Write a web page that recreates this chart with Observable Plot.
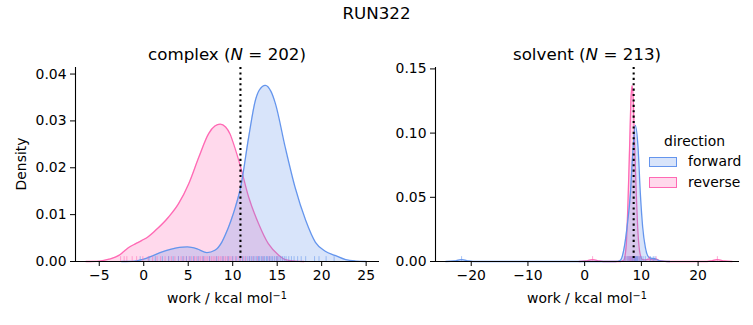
<!DOCTYPE html>
<html>
<head>
<meta charset="utf-8">
<script src="https://cdn.jsdelivr.net/npm/d3@7"></script>
<script src="https://cdn.jsdelivr.net/npm/@observablehq/plot@0.6"></script>
<style>
  html, body { margin: 0; padding: 0; background: white; }
  #fig { position: relative; width: 753px; height: 325px; font-family: "DejaVu Sans", sans-serif; color: black; overflow: hidden; }
  .t { position: absolute; transform: translate(-50%, -50%); line-height: 1; white-space: nowrap; }
  .pl { position: absolute; }
  .lg { position: absolute; font-size: 13.9px; line-height: 1; white-space: nowrap; transform: translateY(-50%); }
  .patch { position: absolute; box-sizing: border-box; width: 27.5px; height: 10.8px; border-width: 1.3px; border-style: solid; }
  sup { font-size: 0.7em; vertical-align: 0.45em; line-height: 0; }
</style>
</head>
<body>
<div id="fig">
  <div class="t" style="left:376.5px; top:12.5px; font-size:16.7px;">RUN322</div>
  <div class="t" style="left:227px; top:54px; font-size:16.7px;">complex (<i>N</i> = 202)</div>
  <div class="t" style="left:587px; top:54px; font-size:16.7px;">solvent (<i>N</i> = 213)</div>
  <div class="t" style="left:227px; top:299px; font-size:13.9px;">work / kcal mol<sup>−1</sup></div>
  <div class="t" style="left:587px; top:299px; font-size:13.9px;">work / kcal mol<sup>−1</sup></div>
  <div class="t" style="left:21.5px; top:164px; font-size:13.9px; transform: translate(-50%, -50%) rotate(-90deg);">Density</div>
  <div id="left" class="pl" style="left:0px; top:60px;"></div>
  <div id="right" class="pl" style="left:380px; top:60px;"></div>
  <div class="lg" style="left:694.5px; top:142px; transform: translate(-50%, -50%);">direction</div>
  <div class="patch" id="pf" style="left:649px; top:156.6px;"></div>
  <div class="lg" style="left:688px; top:161.5px;">forward</div>
  <div class="patch" id="pr" style="left:649px; top:177.2px;"></div>
  <div class="lg" style="left:688px; top:182.5px;">reverse</div>
</div>
<script>
// ---------- data ----------
const directions = ["forward", "reverse"];
const colors = {forward: "#6495ED", reverse: "#FF69B4"};

// complex panel: KDE curves
const complexForwardX = [-2.5, -1, 0, 1, 2, 3, 4, 4.9, 6, 7.1, 8, 8.8, 9.2, 9.8, 10.3, 10.9, 11.8, 12.55, 13.0, 13.67, 14.3, 14.8, 15.9, 17.0, 18.2, 19.3, 20.4, 21.5, 22.7, 23.8, 25];
const complexForwardD = [0, 0.0001, 0.0005, 0.0012, 0.0020, 0.0026, 0.0030, 0.0031, 0.0027, 0.0019, 0.0024, 0.0042, 0.0058, 0.0087, 0.0116, 0.0159, 0.0266, 0.0344, 0.0366, 0.0376, 0.0363, 0.0337, 0.0244, 0.0159, 0.0088, 0.0041, 0.0022, 0.0013, 0.0004, 0.0001, 0];
const complexReverseX = [-6.5, -5, -3.9, -2.8, -2.2, -1.6, -0.9, -0.2, 0.5, 1.3, 2.8, 3.9, 5.06, 6.2, 7.3, 8.0, 8.6, 9.2, 9.7, 10.1, 10.9, 11.8, 12.9, 14.0, 15.2, 15.9, 17, 18];
const complexReverseD = [0, 0.0001, 0.0005, 0.0013, 0.0022, 0.0031, 0.0038, 0.0045, 0.0053, 0.0066, 0.0095, 0.0123, 0.0166, 0.0223, 0.0273, 0.0289, 0.0293, 0.0287, 0.0272, 0.0251, 0.0201, 0.0137, 0.0081, 0.0038, 0.0013, 0.0004, 0.0001, 0];
// complex panel: rug samples (approximate)
const complexForwardRug = [-0.4, 0.6, 1.3, 2.1, 2.8, 3.3, 3.9, 4.4, 4.8, 5.2, 5.6, 6.1, 6.7, 7.4, 8.2, 8.9, 9.5, 10.0, 10.4, 10.8, 11.1, 11.4, 11.7, 11.9, 12.1, 12.3, 12.5, 12.7, 12.9, 13.0, 13.2, 13.3, 13.5, 13.6, 13.8, 13.9, 14.1, 14.2, 14.4, 14.5, 14.7, 14.9, 15.0, 15.2, 15.4, 15.6, 15.8, 16.0, 16.3, 16.6, 16.9, 17.3, 17.7, 18.2, 19.2, 19.7, 20.5, 21.4];
const complexReverseRug = [-2.6, -2.2, -1.9, -1.3, -0.8, -0.1, 0.5, 1.0, 1.5, 1.9, 2.4, 2.8, 3.1, 3.5, 3.9, 4.2, 4.5, 4.8, 5.1, 5.4, 5.7, 5.9, 6.2, 6.4, 6.6, 6.8, 7.0, 7.2, 7.4, 7.6, 7.8, 8.0, 8.2, 8.4, 8.6, 8.8, 9.0, 9.2, 9.4, 9.6, 9.8, 10.0, 10.3, 10.6, 10.9, 11.2, 11.5, 11.9, 12.3, 12.8, 13.4, 14.1, 15.0];
const complexMarker = [10.87];

// solvent panel: KDE curves
const solventForwardX = [-24.5, -23, -21.7, -20.4, -19, 5.5, 6.3, 6.88, 7.47, 8.06, 8.47, 8.94, 9.41, 9.82, 10.23, 10.7, 11.3, 11.8, 12.3, 12.8, 13.5, 15];
const solventForwardD = [0, 0.0004, 0.0015, 0.0004, 0, 0, 0.001, 0.0086, 0.0267, 0.0527, 0.0839, 0.106, 0.089, 0.0527, 0.0267, 0.011, 0.0034, 0.0025, 0.0022, 0.0012, 0.0003, 0];
const solventReverseX = [-1, 0.2, 1.4, 2.6, 4, 6.3, 6.88, 7.3, 7.65, 7.94, 8.15, 8.36, 8.55, 8.71, 9.06, 9.41, 9.77, 10.2, 10.8, 11.4, 12.0, 12.6, 13.3, 14.5, 21, 22.2, 23.4, 24.6, 26];
const solventReverseD = [0, 0.0004, 0.0015, 0.0004, 0, 0, 0.001, 0.011, 0.0475, 0.0917, 0.125, 0.137, 0.128, 0.1046, 0.0579, 0.0216, 0.006, 0.0015, 0.0012, 0.002, 0.0012, 0.0018, 0.0006, 0, 0, 0.0004, 0.0015, 0.0004, 0];
// solvent panel: rug samples (approximate)
const solventForwardRug = [-21.7, 7.0, 7.3, 7.6, 7.8, 8.0, 8.2, 8.4, 8.5, 8.7, 8.8, 8.9, 9.0, 9.1, 9.2, 9.3, 9.4, 9.6, 9.8, 10.0, 10.3, 10.7, 11.6, 12.1, 12.4];
const solventReverseRug = [1.4, 7.2, 7.5, 7.7, 7.9, 8.0, 8.1, 8.2, 8.3, 8.4, 8.5, 8.6, 8.7, 8.8, 8.9, 9.0, 9.2, 9.4, 9.7, 11.4, 12.6, 23.4];
const solventMarker = [8.64];

// ticks
const complexXTicks = [-5, 0, 5, 10, 15, 20, 25];
const complexYTicks = [0, 0.01, 0.02, 0.03, 0.04];
const solventXTicks = [-20, -10, 0, 10, 20];
const solventYTicks = [0, 0.05, 0.10, 0.15];

// ---------- drawing ----------
const zip = (xs, ds) => xs.map((x, i) => ({x, d: ds[i]}));

function panel({fwd, rev, fwdRug, revRug, marker, xDomain, yDomain, xTicks, yTicks, width, marginLeft, marginRight}) {
  const H = 265, marginTop = 7, marginBottom = 64;
  const axesH = H - marginTop - marginBottom;
  const rugInset = axesH - 4.85;
  return Plot.plot({
    width, height: H, marginLeft, marginRight, marginTop, marginBottom,
    x: {domain: xDomain},
    y: {domain: yDomain},
    style: {fontFamily: "DejaVu Sans", fontSize: "13.9px", color: "black", background: "transparent", overflow: "visible"},
    marks: [
      Plot.areaY(rev, {x: "x", y: "d", fill: colors.reverse, fillOpacity: 0.25, curve: "monotone-x"}),
      Plot.lineY(rev, {x: "x", y: "d", stroke: colors.reverse, strokeWidth: 1.3, curve: "monotone-x"}),
      Plot.areaY(fwd, {x: "x", y: "d", fill: colors.forward, fillOpacity: 0.25, curve: "monotone-x"}),
      Plot.lineY(fwd, {x: "x", y: "d", stroke: colors.forward, strokeWidth: 1.3, curve: "monotone-x"}),
      Plot.ruleX(revRug, {x: d => d, stroke: colors.reverse, strokeOpacity: 0.55, strokeWidth: 1, insetTop: rugInset}),
      Plot.ruleX(fwdRug, {x: d => d, stroke: colors.forward, strokeOpacity: 0.55, strokeWidth: 1, insetTop: rugInset}),
      Plot.ruleX(marker, {x: d => d, stroke: "black", strokeWidth: 2.1, strokeDasharray: "2.1,3.3"}),
      Plot.ruleY([yDomain[0]], {stroke: "black", strokeWidth: 1.1}),
      Plot.ruleX([xDomain[0]], {stroke: "black", strokeWidth: 1.1}),
      Plot.axisX({ticks: xTicks, tickSize: 5, tickPadding: 4, tickFormat: d3.format("d"), label: null}),
      Plot.axisY({ticks: yTicks, tickSize: 5, tickPadding: 4, tickFormat: d3.format(".2f"), label: null})
    ]
  });
}

document.getElementById("left").append(panel({
  fwd: zip(complexForwardX, complexForwardD),
  rev: zip(complexReverseX, complexReverseD),
  fwdRug: complexForwardRug, revRug: complexReverseRug, marker: complexMarker,
  xDomain: [-7.67, 26.5], yDomain: [0, 0.0414],
  xTicks: complexXTicks, yTicks: complexYTicks,
  width: 385, marginLeft: 75, marginRight: 6
}));

document.getElementById("right").append(panel({
  fwd: zip(solventForwardX, solventForwardD),
  rev: zip(solventReverseX, solventReverseD),
  fwdRug: solventForwardRug, revRug: solventReverseRug, marker: solventMarker,
  xDomain: [-26.3, 27.3], yDomain: [0, 0.1511],
  xTicks: solventXTicks, yTicks: solventYTicks,
  width: 373, marginLeft: 55, marginRight: 14
}));

// legend patches
const pf = document.getElementById("pf");
pf.style.borderColor = colors.forward; pf.style.background = "rgba(100,149,237,0.25)";
const pr = document.getElementById("pr");
pr.style.borderColor = colors.reverse; pr.style.background = "rgba(255,105,180,0.25)";
</script>
</body>
</html>
